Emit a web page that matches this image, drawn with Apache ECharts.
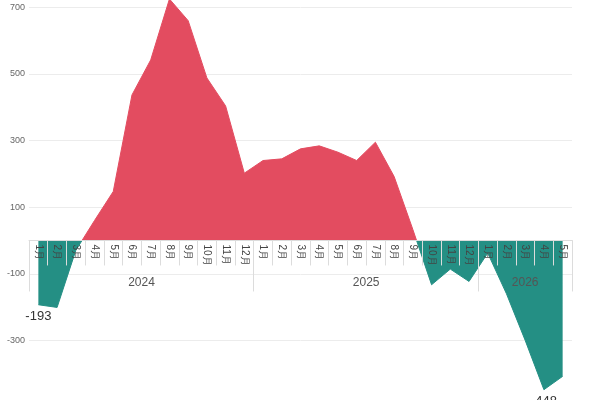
<!DOCTYPE html>
<html>
<head>
<meta charset="utf-8" />
<title></title>
<script src="https://cdn.jsdelivr.net/npm/echarts@6/dist/echarts.min.js"></script>
<style>
html, body { margin: 0; padding: 0; width: 100%; height: 100%; background: #fff; }
</style>
</head>
<body>
<div id="container" style="width: 600px;height: 400px"></div>
<script>
// 月份 + 年份
var years = ['2024', '2025', '2026'];
var monthsPerYear = [12, 12, 5];
var values2024 = [-193, -201, -30, 60, 147, 437, 542, 725, 660, 488, 404, 202];
var values2025 = [240, 245, 275, 284, 265, 240, 295, 192, 33, -133, -86, -123];
var values2026 = [-38, -160, -300, -448, -408];

var months = [];
var yearCats = [];
var yearLabelIdx = {};
var start = 0;
for (var i = 0; i < years.length; i++) {
  for (var m = 1; m <= monthsPerYear[i]; m++) {
    months.push(m + '月');
    yearCats.push(years[i]);
  }
  // label goes in the middle of the group
  yearLabelIdx[start + Math.floor((monthsPerYear[i] - 1) / 2)] = monthsPerYear[i] % 2 === 0;
  start += monthsPerYear[i];
}
var groupStarts = [0, 12, 24];

var values = values2024.concat(values2025, values2026);
var maxI = 0, minI = 0;
values.forEach(function (v, i) {
  if (v > values[maxI]) maxI = i;
  if (v < values[minI]) minI = i;
});
var seriesData = values.map(function (v, i) {
  if (i === 0 || i === minI) {
    return { value: v, label: { show: true, position: 'bottom' } };
  }
  if (i === maxI) {
    return { value: v, label: { show: true, position: 'top' } };
  }
  return v;
});

var RED = '#e34c60';
var TEAL = '#248f84';
var Y_MIN = -500, Y_MAX = 800;

var dom = document.getElementById('container');
var myChart = echarts.init(dom);
// main plot runs a bit past the canvas edges (cropped like the source)
var plotTop = -26, plotBottom = -7;
var zeroY = plotTop + (400 - plotTop - plotBottom) * Y_MAX / (Y_MAX - Y_MIN);
var base = { left: 29, right: 28, outerBoundsMode: 'none', containLabel: false };
var option = {
  animation: false,
  grid: [
    echarts.util.extend({ top: plotTop, bottom: plotBottom }, base),
    // month / year axes sit on the zero line
    echarts.util.extend({ top: 0, bottom: 400 - zeroY, z: 10 }, base),
    echarts.util.extend({ top: 0, bottom: 400 - zeroY, z: 10 }, base)
  ],
  visualMap: {
    show: false,
    type: 'piecewise',
    seriesIndex: 0,
    dimension: 1,
    pieces: [
      { gte: -2000, lt: 0, color: TEAL },
      { gte: 0, lte: 2000, color: RED }
    ]
  },
  xAxis: [{
    type: 'category',
    gridIndex: 0,
    data: months,
    boundaryGap: true,
    show: false
  }, {
    type: 'category',
    gridIndex: 1,
    data: months,
    boundaryGap: true,
    z: 10,
    axisLine: { onZero: false, lineStyle: { color: '#dcdcdc' } },
    axisTick: { show: true, interval: 0, length: 25, lineStyle: { color: '#dcdcdc' } },
    axisLabel: { interval: 0, rotate: -90, fontSize: 10, color: '#444', margin: 4 }
  }, {
    type: 'category',
    gridIndex: 2,
    data: yearCats,
    boundaryGap: true,
    z: 10,
    axisLine: { show: false, onZero: false },
    axisTick: {
      show: true,
      length: 51,
      interval: function (idx) { return groupStarts.indexOf(idx) >= 0; },
      lineStyle: { color: '#dcdcdc' }
    },
    axisLabel: {
      interval: function (idx) { return yearLabelIdx.hasOwnProperty(idx); },
      margin: 36,
      formatter: function (v, idx) {
        return yearLabelIdx[idx] ? '{s|' + v + '}' : '{n|' + v + '}';
      },
      rich: {
        s: { fontSize: 12, color: '#555', padding: [0, 0, 0, 19] },
        n: { fontSize: 12, color: '#555' }
      }
    }
  }],
  yAxis: [{
    type: 'value',
    gridIndex: 0,
    min: Y_MIN,
    max: Y_MAX,
    interval: 200,
    z: 0,
    axisLine: { show: false },
    axisTick: { show: false },
    axisLabel: { fontSize: 9, color: '#666', margin: 4 },
    splitLine: { lineStyle: { color: '#ececec' } }
  }, {
    type: 'value', gridIndex: 1, min: 0, max: 1, show: false
  }, {
    type: 'value', gridIndex: 2, min: 0, max: 1, show: false
  }],
  series: [{
    type: 'line',
    xAxisIndex: 0,
    yAxisIndex: 0,
    z: 1,
    data: seriesData,
    symbol: 'circle',
    symbolSize: 0,
    lineStyle: { width: 1 },
    areaStyle: { opacity: 1 },
    label: { show: false, fontSize: 13, color: '#333', distance: 5 }
  }]
};
myChart.setOption(option);
</script>
</body>
</html>
